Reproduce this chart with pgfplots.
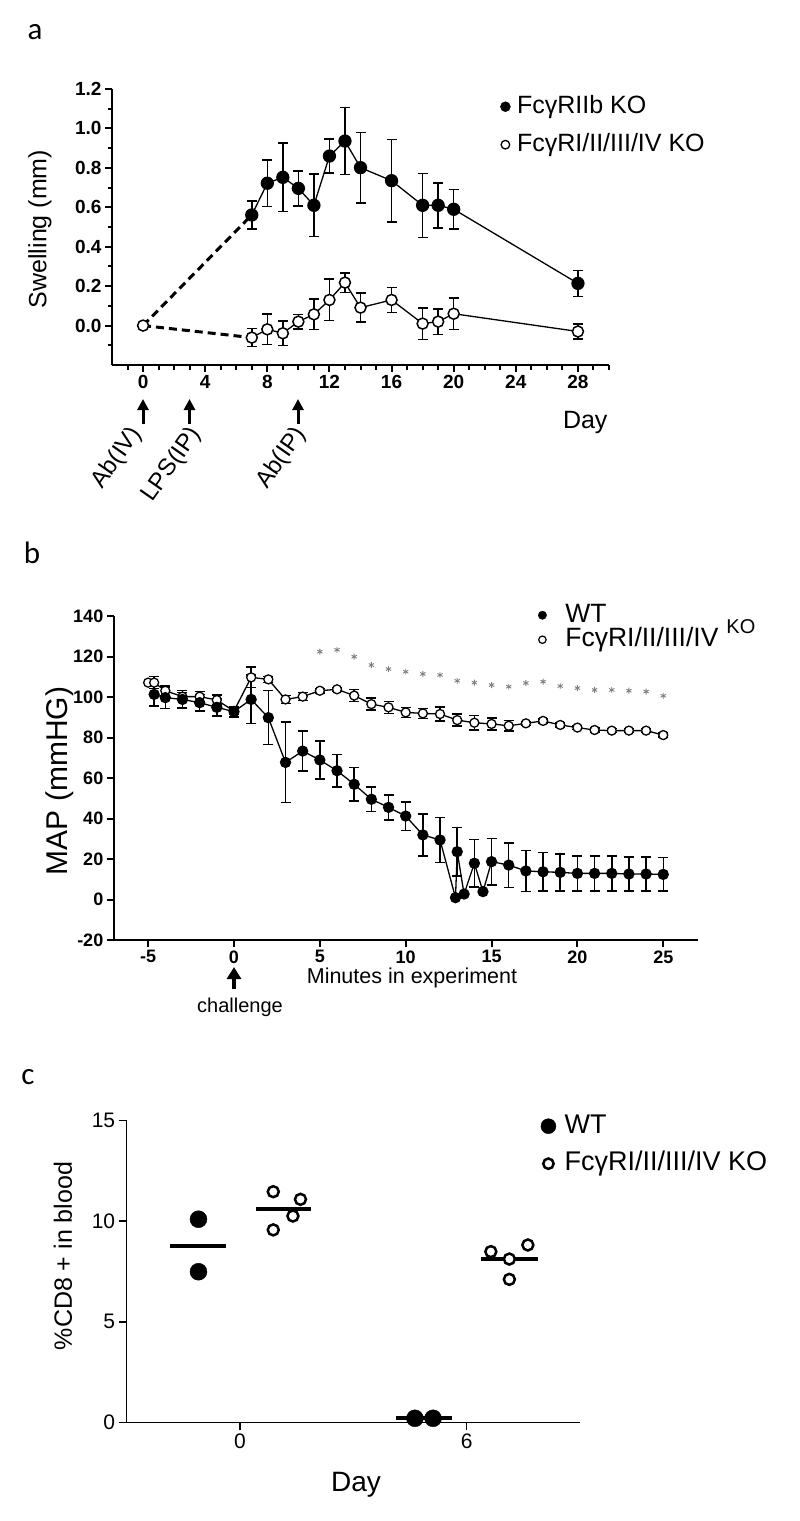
\documentclass[border=0pt]{standalone}
\usepackage{fontspec}
\setmainfont{Liberation Sans}
\newfontfamily\carlito{Carlito}
\usepackage{pgfplots}
\pgfplotsset{compat=1.18}
\usetikzlibrary{arrows.meta}
\newcommand\fs[1]{\fontsize{#1}{#1}\selectfont}
\pgfplotsset{
  common/.style={
    scale only axis, clip=false,
    axis x line*=bottom, axis y line*=left,
    axis line style={-},
    tick align=outside,
    /pgf/number format/assume math mode=true,
    legend cell align=left,
  },
}
\begin{document}
\begin{tikzpicture}
\useasboundingbox (0pt,0pt) rectangle (800pt,-1521pt);

% ---------------- panel a ----------------
\begin{axis}[common,
  at={(112pt,-365pt)}, anchor=south west,
  width=497pt, height=276pt,
  xmin=-2, xmax=30, ymin=-0.2, ymax=1.2,
  xtick={0,4,...,28},
  minor xtick={-1,1,2,3,5,6,7,9,10,11,13,14,15,17,18,19,21,22,23,25,26,27,29,30},
  ytick={0,0.2,0.4,0.6,0.8,1.0,1.2},
  minor ytick={-0.1,0.1,0.3,0.5,0.7,0.9,1.1},
  yticklabel style={/pgf/number format/.cd,fixed,fixed zerofill,precision=1},
  tick label style={font=\fs{19}\bfseries},
  axis line style={line width=2.2pt},
  major tick style={line width=2pt, black},
  minor tick style={line width=2pt, black},
  major tick length=7pt, minor tick length=4.5pt,
  legend style={at={(0.7807,0.9783)}, anchor=north west, draw=none, fill=none,
    inner sep=0pt, row sep=15pt, column sep=6.5pt, font=\fs{25},
    nodes={inner sep=0pt, text height=18pt, text depth=5pt}},
]
\addlegendimage{legend image code/.code={\fill[black] (0pt,0pt) circle (5pt);}}
\addlegendentry{FcγRIIb KO}
\addlegendimage{legend image code/.code={\draw[black, line width=1.3pt, fill=white] (0pt,0pt) circle (4.3pt);}}
\addlegendentry{FcγRI/II/III/IV KO}

\addplot[black, line width=3pt, dash pattern=on 8pt off 5pt] coordinates {(0,0) (7,0.561)};
\addplot[black, line width=3pt, dash pattern=on 8pt off 5pt] coordinates {(0,0) (7,-0.061)};

\addplot[black, line width=1.3pt, mark=*, mark size=6pt, mark options={solid, fill=black},
  error bars/.cd, y dir=both, y explicit,
  error bar style={line width=1.5pt},
  error mark options={rotate=90, mark size=5pt, line width=1.5pt}]
  table[x=x, y=y, y error=e] {
x y e
7 0.561 0.070
8 0.722 0.118
9 0.752 0.173
10 0.696 0.089
11 0.610 0.158
12 0.860 0.086
13 0.936 0.169
14 0.801 0.178
16 0.735 0.210
18 0.610 0.162
19 0.610 0.114
20 0.590 0.099
28 0.214 0.066
};

\addplot[black, line width=1.3pt, mark=*, mark size=5.5pt, mark options={solid, fill=white, line width=1.5pt},
  error bars/.cd, y dir=both, y explicit,
  error bar style={line width=1.5pt},
  error mark options={rotate=90, mark size=5pt, line width=1.5pt}]
  table[x=x, y=y, y error=e] {
x y e
7 -0.061 0.046
8 -0.019 0.078
9 -0.039 0.063
10 0.020 0.037
11 0.057 0.077
12 0.130 0.105
13 0.218 0.049
14 0.091 0.074
16 0.130 0.064
18 0.010 0.080
19 0.020 0.065
20 0.060 0.080
28 -0.030 0.037
};
\addplot[black, only marks, mark=*, mark size=5.5pt, mark options={fill=white, line width=1.5pt}] coordinates {(0,0)};
\end{axis}

\node[font=\carlito\fs{31}] at (35pt,-32pt) {a};
\node[font=\fs{25}, rotate=90] at (40pt,-229pt) {Swelling (mm)};
\node[font=\fs{25}, anchor=base east] at (611pt,-428pt) {Day};
\foreach \xx in {143,189.5,298}{
  \draw[line width=3pt, -{Triangle[length=11pt,width=11pt]}] (\xx pt,-424pt) -- (\xx pt,-399pt);
}
\node[font=\fs{24}, rotate=55, inner sep=0pt] at (117pt,-458pt) {Ab(IV)};
\node[font=\fs{24}, rotate=55, inner sep=0pt] at (172pt,-465pt) {LPS(IP)};
\node[font=\fs{24}, rotate=55, inner sep=0pt] at (281.5pt,-458pt) {Ab(IP)};

% ---------------- panel b ----------------
\begin{axis}[common,
  at={(113.8pt,-940pt)}, anchor=south west,
  width=583.8pt, height=324pt,
  xmin=-7, xmax=27, ymin=-20, ymax=140,
  xtick={-5,0,5,10,15,20,25},
  ytick={-20,0,20,40,60,80,100,120,140},
  tick label style={font=\fs{18}\bfseries},
  axis line style={line width=2pt},
  major tick style={line width=2pt, black},
  major tick length=7pt,
  legend style={at={(0.7263,1.0401)}, anchor=north west, draw=none, fill=none,
    inner sep=0pt, row sep=0.5pt, column sep=18.5pt, font=\fs{26.5},
    nodes={inner sep=0pt, text height=19pt, text depth=5pt}},
]
\addlegendimage{legend image code/.code={\fill[black] (0pt,0pt) circle (4.2pt);}}
\addlegendentry{WT}
\addlegendimage{legend image code/.code={\draw[black, line width=1.2pt, fill=white] (0pt,0pt) circle (3.7pt);}}
\addlegendentry{FcγRI/II/III/IV\hspace{8pt}\raisebox{13pt}{\fs{20}KO}}

\addplot[only marks, mark=asterisk, mark size=3pt, color=black!50, mark options={line width=0.9pt}] coordinates {
(5,122.4) (6,123.3) (7,119.9) (8,115.8) (9,113.8) (10,112.5) (11,111.4) (12,110.9)
(13,108.0) (14,107.1) (15,105.9) (16,105.1) (17,106.9) (18,107.6) (19,105.4)
(20,104.4) (21,103.5) (22,103.5) (23,103.1) (24,102.7) (25,100.6)};

\addplot[black, line width=1.3pt, mark=*, mark size=4.5pt, mark options={solid, fill=white, line width=1.3pt},
  error bars/.cd, y dir=both, y explicit,
  error bar style={line width=1.5pt},
  error mark options={rotate=90, mark size=5pt, line width=1.5pt}]
  table[x=x, y=y, y error=e] {
x y e
-5 107.1 0
-4.65 107.1 3
-4 103.1 2.5
-3 100.2 2
-2 100.2 2.5
-1 98.5 2.5
0 93.1 1.5
1 109.7 5
2 108.7 1.5
3 98.8 2
4 100.2 2
5 103.1 1
6 103.8 1
7 100.7 3
8 96.5 3
9 94.9 3
10 92.4 2.5
11 91.9 2.5
12 91.6 3.5
13 88.6 3
14 87.3 3.5
15 86.7 3
16 85.8 2.5
17 87.0 1
18 88.2 1
19 86.2 1
20 84.9 1
21 83.7 1
22 83.4 1
23 83.4 1
24 83.4 1
25 81.2 1
};

\addplot[black, line width=1.3pt, mark=*, mark size=5pt, mark options={solid, fill=black},
  error bars/.cd, y dir=both, y explicit,
  error bar style={line width=1.5pt},
  error mark options={rotate=90, mark size=5pt, line width=1.5pt}]
  table[x=x, y=y, y error=e] {
x y e
-4.65 101.3 5.7
-4 99.7 5.35
-3 98.8 4.35
-2 97.2 4.1
-1 94.9 4.35
0 92.8 2.6
1 98.8 12
2 89.8 13.35
3 67.7 19.9
4 73.3 9.85
5 68.9 9.4
6 63.6 8.1
7 56.9 8.25
8 49.5 6
9 45.5 6.15
10 41.2 7
11 31.9 10.45
12 29.4 11
12.9 0.9 0
13 23.6 12
13.4 2.7 0
14 17.9 11.7
14.5 3.9 0
15 18.7 11.5
16 17.0 11
17 14.1 10.1
18 13.7 9.55
19 13.4 9.15
20 12.9 8.6
21 12.9 8.6
22 12.9 8.6
23 12.6 8.4
24 12.6 8.4
25 12.4 8.3
};
\end{axis}

\node[font=\carlito\fs{31}] at (32pt,-553pt) {b};
\node[font=\fs{30}, rotate=90] at (60pt,-781pt) {MAP (mmHG)};
\node[font=\fs{21.5}] at (412pt,-978pt) {Minutes in experiment};
\draw[line width=4pt, -{Triangle[length=12pt,width=14pt]}] (234pt,-989pt) -- (234pt,-967pt);
\node[font=\fs{20}] at (240pt,-1007pt) {challenge};

% ---------------- panel c ----------------
\begin{axis}[common,
  at={(126.7pt,-1422.3pt)}, anchor=south west,
  width=453.3pt, height=301.6pt,
  xmin=-3, xmax=9, ymin=0, ymax=15,
  xtick={0,6},
  ytick={0,5,10,15},
  tick label style={font=\fs{21}},
  axis line style={line width=1.5pt},
  major tick style={line width=1.5pt, black},
  major tick length=8pt,
  legend style={at={(0.9129,1.0256)}, anchor=north west, draw=none, fill=none,
    inner sep=0pt, row sep=11.5pt, column sep=8.5pt, font=\fs{27},
    nodes={inner sep=0pt, text height=20pt, text depth=6pt}},
]
\addlegendimage{legend image code/.code={\fill[black] (0pt,0pt) circle (7.5pt);}}
\addlegendentry{WT}
\addlegendimage{legend image code/.code={\draw[black, line width=2.5pt, fill=white] (0pt,0pt) circle (5.2pt);}}
\addlegendentry{FcγRI/II/III/IV KO}

\addplot[black, line width=4pt] coordinates {(-1.85,8.79) (-0.37,8.79)};
\addplot[black, line width=4pt] coordinates {(0.41,10.61) (1.87,10.61)};
\addplot[black, line width=4pt] coordinates {(4.14,0.2) (5.6,0.2)};
\addplot[black, line width=4pt] coordinates {(6.38,8.12) (7.88,8.12)};

\addplot[only marks, mark=*, mark size=8.5pt, mark options={black, fill=black}] coordinates {
(-1.1,10.1) (-1.1,7.49) (4.63,0.2) (5.11,0.2)};
\addplot[only marks, mark=*, mark size=5.5pt, mark options={black, fill=white, line width=2.5pt}] coordinates {
(0.88,11.47) (1.6,11.09) (1.4,10.26) (0.88,9.57)
(6.64,8.49) (7.62,8.82) (7.13,8.12) (7.13,7.11)};
\end{axis}

\node[font=\carlito\fs{31}] at (28pt,-1077pt) {c};
\node[font=\fs{25}, rotate=90] at (63pt,-1256pt) {\%CD8 + in blood};
\node[font=\fs{28}] at (356pt,-1485pt) {Day};
\end{tikzpicture}
\end{document}
